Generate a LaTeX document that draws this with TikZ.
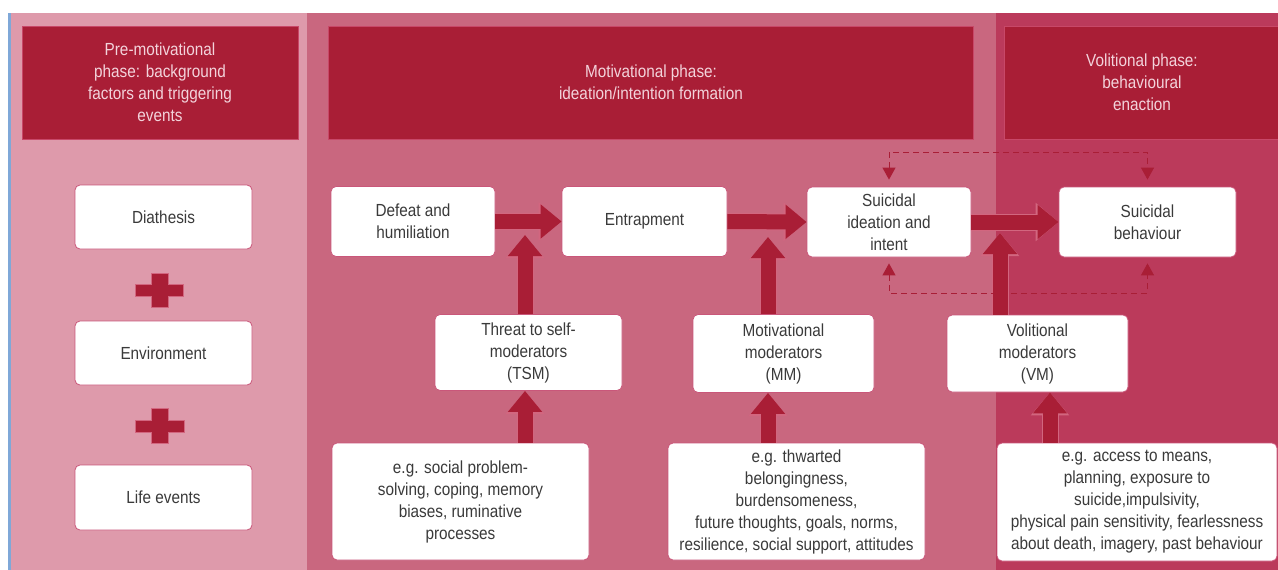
\documentclass[tikz,border=0pt]{standalone}
\usepackage{fontspec}
\setmainfont{Liberation Sans}[FakeStretch=0.875]
\usetikzlibrary{arrows.meta}
\definecolor{pone}{HTML}{DE9AAB}
\definecolor{ptwo}{HTML}{C9677F}
\definecolor{pthree}{HTML}{BB3A5B}
\definecolor{hdr}{HTML}{A91E36}
\definecolor{hdrline}{HTML}{C84868}
\definecolor{hdrtext}{HTML}{F3D3DB}
\definecolor{boxline}{HTML}{C9577A}
\definecolor{bodytext}{HTML}{3A3A3A}
\definecolor{arrline}{HTML}{D2667F}
\definecolor{blueline}{HTML}{7FA8D8}
\begin{document}
\begin{tikzpicture}[x=1pt,y=-1pt,
  every node/.style={font=\fontsize{17.5}{22}\selectfont, align=center, inner sep=0pt},
  header/.style={fill=hdr, draw=hdrline, line width=1pt, text=hdrtext},
  wbox/.style={fill=white, draw=boxline, line width=0.8pt, rounded corners=5pt, text=bodytext},
  fat/.style={draw=hdr, line width=15pt, -{Triangle[length=21pt,width=33pt]},
    preaction={draw=arrline, line width=17pt, -{Triangle[length=23pt,width=37pt]}}},
  dasharrow/.style={draw=hdr, line width=1pt, dash pattern=on 6pt off 4pt,
    {Triangle[length=12pt,width=13pt]}-{Triangle[length=12pt,width=13pt]}},
  plussign/.style={fill=hdr, draw=arrline, line width=0.8pt}
]
\useasboundingbox (0,0) rectangle (1278,570);
\fill[white] (0,0) rectangle (1278,570);
% panels
\fill[pone] (10,13) rectangle (307,570);
\fill[ptwo] (307,13) rectangle (996,570);
\fill[pthree] (996,13) rectangle (1278,570);
\fill[blueline] (8,13) rectangle (11,570);
% headers
\node[header, minimum width=276pt, minimum height=113pt] (h1) at (160,82.5)
  {Pre-motivational\\phase: background\\factors and triggering\\events};
\node[header, minimum width=645pt, minimum height=113pt] (h2) at (651,82.5)
  {Motivational phase:\\ideation/intention formation};
\node[header, minimum width=276pt, minimum height=113pt] (h3) at (1142,82.5)
  {Volitional phase:\\behavioural\\enaction};
% left column
\node[wbox, minimum width=177pt, minimum height=64pt] (dia) at (163.5,217) {Diathesis};
\node[wbox, minimum width=177pt, minimum height=64pt] (env) at (163.5,353) {Environment};
\node[wbox, minimum width=177pt, minimum height=65pt] (life) at (163.5,497.5) {Life events};
\path[plussign] (135,284) -- (151,284) -- (151,273) -- (168,273) -- (168,284) -- (183,284)
  -- (183,296) -- (168,296) -- (168,307) -- (151,307) -- (151,296) -- (135,296) -- cycle;
\path[plussign] (135,420) -- (151,420) -- (151,408) -- (168,408) -- (168,420) -- (184,420)
  -- (184,432) -- (168,432) -- (168,443) -- (151,443) -- (151,432) -- (135,432) -- cycle;
% main row
\node[wbox, minimum width=164pt, minimum height=70pt] (def) at (413,221.5) {Defeat and\\humiliation};
\node[wbox, minimum width=165pt, minimum height=70pt] (ent) at (644.5,221.5) {Entrapment};
\node[wbox, minimum width=164pt, minimum height=70pt] (si) at (889,222) {Suicidal\\ideation and\\intent};
\node[wbox, minimum width=177pt, minimum height=70pt] (sb) at (1147.5,222) {Suicidal\\behaviour};
% moderators
\node[wbox, minimum width=187pt, minimum height=76pt] (tsm) at (528.5,352.5) {Threat to self-\\moderators\\(TSM)};
\node[wbox, minimum width=181pt, minimum height=78pt] (mm) at (783.5,353.5) {Motivational\\moderators\\(MM)};
\node[wbox, minimum width=181pt, minimum height=77pt] (vm) at (1037.5,353.5) {Volitional\\moderators\\(VM)};
% examples
\node[wbox, minimum width=257pt, minimum height=117pt] (tsmx) at (460.5,501.5)
  {e.g. social problem-\\solving, coping, memory\\biases, ruminative\\processes};
\node[wbox, minimum width=257pt, minimum height=117pt] (mmx) at (796.5,501.5)
  {e.g. thwarted\\belongingness,\\burdensomeness,\\future thoughts, goals, norms,\\resilience, social support, attitudes};
\node[wbox, minimum width=280pt, minimum height=118pt] (vmx) at (1137,502)
  {e.g. access to means,\\planning, exposure to\\suicide,impulsivity,\\physical pain sensitivity, fearlessness\\about death, imagery, past behaviour};
% coordinates for free ends
\coordinate (t1) at (525,235);
\coordinate (t2) at (768,237);
\coordinate (t3) at (1000,233);
\coordinate (x3) at (1050,392);
\coordinate (dtop) at (0,152);
\coordinate (dbot) at (0,293);
% fat arrows
\draw[fat] (def.east) -- (ent.west);
\draw[fat] (ent.east) -- (si.west);
\draw[fat] (si.east) -- (sb.west);
\draw[fat] (tsm.north -| t1) -- (t1);
\draw[fat] (mm.north -| t2) -- (t2);
\draw[fat] (vm.north -| t3) -- (t3);
\draw[fat] (tsmx.north -| t1) -- (tsm.south -| t1);
\draw[fat] (mmx.north -| t2) -- (mm.south -| t2);
\draw[fat] (vmx.north -| x3) -- (vm.south -| x3);
% dashed feedback arrows
\draw[dasharrow, shorten <=7pt, shorten >=7pt] (si.north) -- (si.north |- dtop) -| (sb.north);
\draw[dasharrow, shorten <=6pt, shorten >=6pt] (si.south) -- (si.south |- dbot) -| (sb.south);
\end{tikzpicture}
\end{document}
